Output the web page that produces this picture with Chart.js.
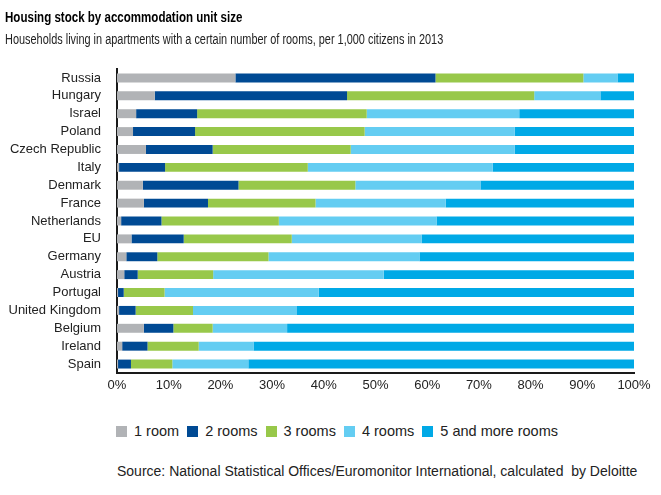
<!DOCTYPE html>
<html>
<head>
<meta charset="utf-8">
<script src="https://cdn.jsdelivr.net/npm/chart.js@4/dist/chart.umd.min.js"></script>
<style>
  body { margin: 0; background: #fff; font-family: "Liberation Sans", Arial, sans-serif; color: #222; }
  #wrap { position: relative; width: 661px; height: 495px; overflow: hidden; }
  #chart { position: absolute; left: 0; top: 0; }
  .head { position: absolute; left: 5px; white-space: nowrap; transform-origin: left center; }
  #title { top: 8px; font-size: 15px; font-weight: bold; color: #000; transform: scaleX(0.77); }
  #subtitle { top: 31px; font-size: 14px; transform: scaleX(0.78); }
  #legend { position: absolute; left: 116px; top: 423px; font-size: 14.5px; white-space: nowrap; }
  #legend span.item { display: inline-block; margin-right: 8px; }
  #legend span.box { display: inline-block; width: 11px; height: 11px; margin-right: 7px; vertical-align: -1px; }
  #source { position: absolute; left: 117px; top: 463px; font-size: 14px; }
</style>
</head>
<body>
<div id="wrap">
  <canvas id="chart" width="661" height="400"></canvas>
  <div id="title" class="head">Housing stock by accommodation unit size</div>
  <div id="subtitle" class="head">Households living in apartments with a certain number of rooms, per 1,000 citizens in 2013</div>
  <div id="legend"></div>
  <div id="source">Source: National Statistical Offices/Euromonitor International, calculated&nbsp; by Deloitte</div>
</div>
<script>
// countries, top to bottom
const countries = ['Russia', 'Hungary', 'Israel', 'Poland', 'Czech Republic', 'Italy', 'Denmark', 'France',
    'Netherlands', 'EU', 'Germany', 'Austria', 'Portugal', 'United Kingdom', 'Belgium', 'Ireland', 'Spain'];

const seriesNames = ['1 room', '2 rooms', '3 rooms', '4 rooms', '5 and more rooms'];
const seriesColors = ['#b1b3b6', '#004a94', '#98c84a', '#64cdf2', '#00a9e6'];

// shares in %
const oneRoom   = [22.9, 7.3, 3.7, 3.1, 5.6, 0.4, 5.0, 5.2, 0.8, 2.8, 1.8, 1.4, 0.2, 0.4, 5.2, 1.0, 0.2];
const twoRooms  = [38.7, 37.2, 11.8, 12.0, 12.9, 8.9, 18.5, 12.4, 7.8, 10.1, 6.0, 2.6, 1.1, 3.2, 5.7, 4.9, 2.5];
const threeRooms = [28.6, 36.2, 32.8, 32.8, 26.7, 27.6, 22.6, 20.8, 22.7, 20.9, 21.5, 14.6, 7.9, 11.1, 7.6, 9.9, 8.0];
const fourRooms = [6.6, 12.8, 29.5, 29.0, 31.7, 35.8, 24.2, 25.2, 30.5, 25.1, 29.2, 33.0, 29.8, 20.0, 14.4, 10.6, 14.7];
const fivePlus  = [3.2, 6.5, 22.2, 23.1, 23.1, 27.3, 29.7, 36.4, 38.2, 41.1, 41.5, 48.4, 61.0, 65.3, 67.1, 73.6, 74.6];

const xTicks = [0, 10, 20, 30, 40, 50, 60, 70, 80, 90, 100];

const fontFamily = '"Liberation Sans", Arial, sans-serif';
const textColor = '#222';

const values = [oneRoom, twoRooms, threeRooms, fourRooms, fivePlus];
const datasets = seriesNames.map((name, i) => ({
    label: name,
    data: values[i],
    backgroundColor: seriesColors[i],
    borderWidth: 0,
    barPercentage: 0.5,
    categoryPercentage: 1.0
}));

// legend as plain text under the chart
const legendEl = document.getElementById('legend');
seriesNames.forEach((name, i) => {
    const item = document.createElement('span');
    item.className = 'item';
    const box = document.createElement('span');
    box.className = 'box';
    box.style.background = seriesColors[i];
    item.appendChild(box);
    item.appendChild(document.createTextNode(name));
    legendEl.appendChild(item);
});

const ctx = document.getElementById('chart').getContext('2d');
const chart = new Chart(ctx, {
    type: 'bar',
    data: {
        labels: countries,
        datasets: datasets
    },
    options: {
        indexAxis: 'y',
        responsive: false,
        animation: false,
        layout: {
            padding: { left: 5, right: 27, top: 69, bottom: 0 }
        },
        plugins: {
            legend: { display: false },
            tooltip: { enabled: false }
        },
        scales: {
            x: {
                stacked: true,
                min: 0,
                max: 100,
                afterBuildTicks: scale => { scale.ticks = xTicks.map(v => ({ value: v })); },
                afterFit: scale => { scale.height = 27; },
                grid: { display: false, drawTicks: false },
                border: { display: true, color: '#1a1a1a', width: 2 },
                ticks: {
                    padding: 5,
                    color: textColor,
                    font: { family: fontFamily, size: 13 },
                    callback: v => v + '%'
                }
            },
            y: {
                stacked: true,
                afterFit: scale => { scale.width = 112; },
                grid: { display: false, drawTicks: false },
                border: { display: true, color: '#1a1a1a', width: 2 },
                ticks: {
                    autoSkip: false,
                    padding: 16,
                    color: textColor,
                    font: { family: fontFamily, size: 13 }
                }
            }
        }
    }
});
</script>
</body>
</html>
